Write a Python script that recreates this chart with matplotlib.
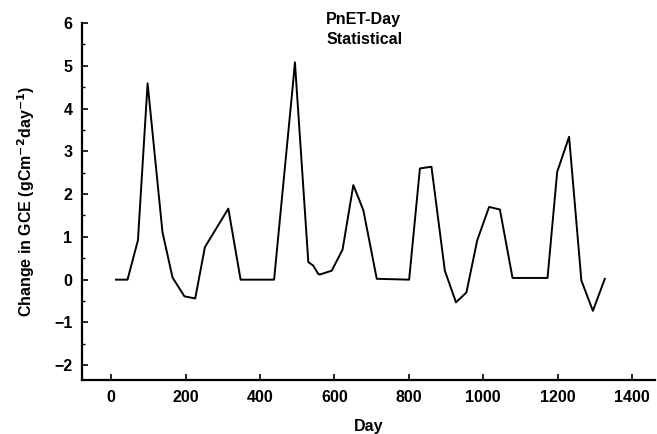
import matplotlib.pyplot as plt
from matplotlib.ticker import MultipleLocator

plt.rcParams['font.family'] = ['Liberation Sans', 'DejaVu Sans']

days = [13, 44, 72, 98, 138, 165, 197, 226, 252, 315, 348, 438, 489, 494,
        530, 543, 557, 561, 593, 622, 651, 664, 678, 714, 801, 830, 861,
        897, 927, 955, 984, 1016, 1045, 1079, 1173, 1199, 1231, 1264, 1295, 1327]
gce_change = [0.0, 0.0, 0.92, 4.59, 1.11, 0.05, -0.39, -0.44, 0.76, 1.66, 0.0, 0.0, 4.6, 5.08,
              0.41, 0.33, 0.13, 0.12, 0.21, 0.70, 2.21, 1.93, 1.62, 0.02, 0.0, 2.60, 2.64,
              0.21, -0.53, -0.30, 0.92, 1.70, 1.64, 0.04, 0.04, 2.52, 3.34, -0.02, -0.73, 0.02]

x_ticks = [0, 200, 400, 600, 800, 1000, 1200, 1400]
y_ticks = [-2, -1, 0, 1, 2, 3, 4, 5, 6]

fig = plt.figure(figsize=(6.57, 4.34), dpi=100)
ax = fig.add_axes([0.125, 0.124, 0.872, 0.823])

ax.plot(days, gce_change, color='black', linewidth=1.4)

ax.set_xlim(-78, 1462)
ax.set_ylim(-2.35, 6)
ax.set_xticks(x_ticks)
ax.set_yticks(y_ticks)
ax.yaxis.set_minor_locator(MultipleLocator(0.5))
ax.tick_params(direction='in', length=4, width=1.2, labelsize=11.5, pad=7)
ax.tick_params(which='minor', direction='in', length=2.5, width=1)
for lbl in ax.get_xticklabels() + ax.get_yticklabels():
    lbl.set_fontweight('bold')

ax.spines['top'].set_visible(False)
ax.spines['right'].set_visible(False)
ax.spines['left'].set_linewidth(1.6)
ax.spines['bottom'].set_linewidth(1.6)

ax.set_xlabel('Day', fontsize=11.5, fontweight='bold', labelpad=10)
ax.set_ylabel('Change in GCE (gCm$^{\\mathbf{-2}}$day$^{\\mathbf{-1}}$)', fontsize=11.5,
              fontweight='bold', labelpad=12)

ax.text(0.426, 1.03, 'PnET-Day\nStatistical', transform=ax.transAxes,
        fontsize=11.5, fontweight='bold', ha='left', va='top', linespacing=1.4)

plt.savefig('out.png', dpi=100, facecolor='white')
plt.close()
